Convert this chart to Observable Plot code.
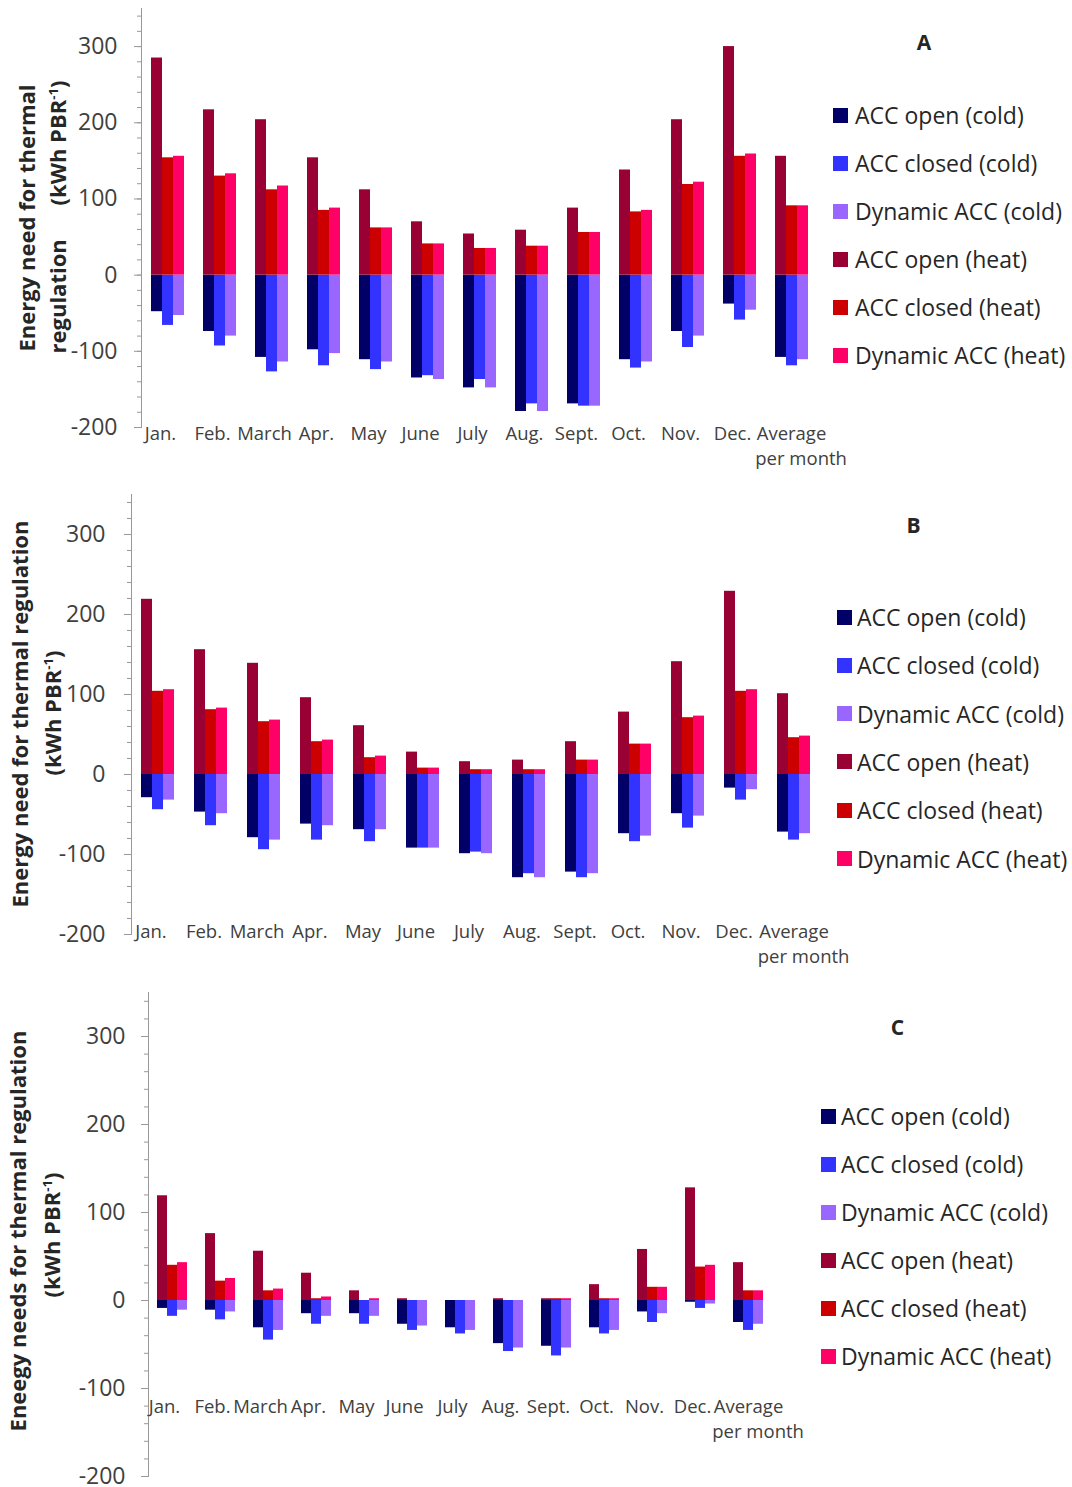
<!DOCTYPE html>
<html>
<head>
<meta charset="utf-8">
<script src="https://cdn.jsdelivr.net/npm/d3@7"></script>
<script src="https://cdn.jsdelivr.net/npm/@observablehq/plot@0.6"></script>
<style>
  body { margin: 0; background: #fff; }
  #root { position: relative; width: 1072px; height: 1487px; overflow: hidden; background: #fff; font-family: "Open Sans", sans-serif; }
  .ytitle { position: absolute; white-space: nowrap; font-weight: bold; font-size: 22px; color: #262626; transform: translate(-50%, -50%) rotate(-90deg); }
  .ytitle sup { font-size: 0.6em; }
  .legrow { position: absolute; display: flex; align-items: center; height: 30px; font-size: 23px; color: #262626; white-space: nowrap; }
  .sw { width: 15px; height: 15px; flex: none; }
  .letter { position: absolute; font-weight: bold; font-size: 21px; color: #262626; transform: translate(-50%, -50%); }
</style>
</head>
<body>
<div id="root"></div>
<script>
// ---- categories & series ----
const months = ["Jan.", "Feb.", "March", "Apr.", "May", "June", "July", "Aug.", "Sept.", "Oct.", "Nov.", "Dec.", "Average per month"];
const configs = ["open", "closed", "dynamic"];
const seriesNames = ["ACC open (cold)", "ACC closed (cold)", "Dynamic ACC (cold)", "ACC open (heat)", "ACC closed (heat)", "Dynamic ACC (heat)"];
const seriesColors = ["#000066", "#3333ff", "#9966ff", "#990033", "#cc0000", "#ff0066"];
const yMajorTicks = [-200, -100, 0, 100, 200, 300];

// ---- Panel A ----
const aOpenCold   = [-48, -74, -108, -98, -111, -135, -148, -179, -169, -111, -74, -38, -108];
const aClosedCold = [-66, -93, -127, -119, -124, -132, -137, -169, -172, -122, -95, -59, -119];
const aDynCold    = [-53, -80, -114, -103, -114, -137, -148, -179, -172, -114, -80, -46, -111];
const aOpenHeat   = [285, 217, 204, 154, 112, 70, 54, 59, 88, 138, 204, 300, 156];
const aClosedHeat = [154, 130, 112, 85, 62, 41, 35, 38, 56, 83, 119, 156, 91];
const aDynHeat    = [156, 133, 117, 88, 62, 41, 35, 38, 56, 85, 122, 159, 91];

// ---- Panel B ----
const bOpenCold   = [-29, -47, -79, -62, -69, -92, -99, -129, -122, -74, -49, -17, -72];
const bClosedCold = [-44, -64, -94, -82, -84, -92, -97, -124, -129, -84, -67, -32, -82];
const bDynCold    = [-32, -49, -82, -64, -69, -92, -99, -129, -124, -77, -52, -19, -74];
const bOpenHeat   = [219, 156, 139, 96, 61, 28, 16, 18, 41, 78, 141, 229, 101];
const bClosedHeat = [104, 81, 66, 41, 21, 8, 6, 6, 18, 38, 71, 104, 46];
const bDynHeat    = [106, 83, 68, 43, 23, 8, 6, 6, 18, 38, 73, 106, 48];

// ---- Panel C ----
const cOpenCold   = [-9, -11, -31, -15, -15, -27, -31, -49, -52, -31, -13, -2, -25];
const cClosedCold = [-18, -22, -45, -27, -27, -34, -38, -58, -63, -38, -25, -9, -34];
const cDynCold    = [-11, -13, -34, -18, -18, -29, -34, -54, -54, -34, -15, -4, -27];
const cOpenHeat   = [119, 76, 56, 31, 11, 2, 0, 2, 2, 18, 58, 128, 43];
const cClosedHeat = [40, 22, 11, 2, 0, 0, 0, 0, 2, 2, 15, 38, 11];
const cDynHeat    = [43, 25, 13, 4, 2, 0, 0, 0, 2, 2, 15, 40, 11];

function buildRows(arrays) {
  const rows = [];
  months.forEach((m, i) => {
    arrays.forEach((arr, s) => {
      rows.push({ month: m, config: configs[s % 3], series: seriesNames[s], value: arr[i] });
    });
  });
  return rows;
}

const panels = [
  { letter: "A", top: 0, width: 840, height: 475, mL: 136, mR: 18, mT: 8, mB: 48, labelDy: -5, labelDx: -7, tickPad: 17,
    arrays: [aOpenCold, aClosedCold, aDynCold, aOpenHeat, aClosedHeat, aDynHeat],
    letterPos: [924, 42], legend: { sw: 833, tx: 855, y0: 115, step: 48 } },
  { letter: "B", top: 480, width: 840, height: 494, mL: 131, mR: 20, mT: 14, mB: 40, labelDy: -14, labelDx: -7, tickPad: 19,
    arrays: [bOpenCold, bClosedCold, bDynCold, bOpenHeat, bClosedHeat, bDynHeat],
    letterPos: [913.5, 525], legend: { sw: 837, tx: 857, y0: 617, step: 48.3 } },
  { letter: "C", top: 980, width: 800, height: 506, mL: 143, mR: 24, mT: 12, mB: 10, labelDy: -81, labelDx: -8, tickPad: 16,
    arrays: [cOpenCold, cClosedCold, cDynCold, cOpenHeat, cClosedHeat, cDynHeat],
    letterPos: [897.5, 1027], legend: { sw: 820.5, tx: 841, y0: 1116, step: 48 } }
];

const root = document.getElementById("root");
const lastLabel = months[months.length - 1];
const labelFmt = d => d === lastLabel ? "Average\n    per month" : d;

panels.forEach(p => {
  const data = buildRows(p.arrays);
  const labelOpts = { frameAnchor: "bottom", lineAnchor: "top", text: labelFmt,
                      fontSize: 18.5, fill: "#404040", dy: p.labelDy, lineHeight: 1.35 };
  const chart = Plot.plot({
    width: p.width,
    height: p.height,
    marginLeft: p.mL,
    marginRight: p.mR,
    marginTop: p.mT,
    marginBottom: p.mB,
    style: { fontFamily: "Open Sans", background: "transparent", overflow: "visible" },
    fx: { domain: months, padding: 0, axis: null },
    x: { domain: configs, paddingInner: 0, paddingOuter: 0.76, axis: null },
    y: { domain: [-200, 350] },
    color: { domain: seriesNames, range: seriesColors },
    marks: [
      Plot.barY(data, { fx: "month", x: "config", y: "value", fill: "series" }),
      Plot.axisY({ ticks: d3.range(-200, 341, 20), tickSize: 4, tickFormat: () => "", stroke: "#999999", label: null }),
      Plot.axisY({ ticks: yMajorTicks, tickSize: 7, tickPadding: p.tickPad, tickFormat: d => String(d),
                   fontSize: 23, fill: "#404040", stroke: "#999999", label: null }),
      Plot.frame({ anchor: "left", stroke: "#999999", facetAnchor: "left" }),
      Plot.text(months.filter(m => m !== lastLabel), { fx: d => d, dx: p.labelDx, ...labelOpts }),
      Plot.text([lastLabel], { fx: d => d, ...labelOpts })
    ]
  });
  chart.style.position = "absolute";
  chart.style.left = "0px";
  chart.style.top = p.top + "px";
  root.appendChild(chart);

  // panel letter
  const L = document.createElement("div");
  L.className = "letter";
  L.style.left = p.letterPos[0] + "px";
  L.style.top = p.letterPos[1] + "px";
  L.textContent = p.letter;
  root.appendChild(L);

  // legend
  seriesNames.forEach((name, i) => {
    const row = document.createElement("div");
    row.className = "legrow";
    row.style.left = p.legend.sw + "px";
    row.style.top = (p.legend.y0 + i * p.legend.step - 15) + "px";
    const sw = document.createElement("div");
    sw.className = "sw";
    sw.style.background = seriesColors[i];
    const t = document.createElement("span");
    t.style.marginLeft = (p.legend.tx - p.legend.sw - 15) + "px";
    t.textContent = name;
    row.appendChild(sw);
    row.appendChild(t);
    root.appendChild(row);
  });
});

// y-axis titles
function yTitle(html, cx, cy, extraStyle) {
  const d = document.createElement("div");
  d.className = "ytitle";
  d.style.left = cx + "px";
  d.style.top = cy + "px";
  if (extraStyle) Object.assign(d.style, extraStyle);
  d.innerHTML = html;
  root.appendChild(d);
}
yTitle("Energy need for thermal", 25.5, 217.5);
yTitle("<span>regulation</span><span>(kWh PBR<sup>-1</sup>)</span>", 57, 216.5,
       { display: "flex", justifyContent: "space-between", width: "273px" });
yTitle("Energy need for thermal regulation", 19, 714);
yTitle("(kWh PBR<sup>-1</sup>)", 51.5, 713);
yTitle("Eneegy needs for thermal regulation", 16.5, 1231);
yTitle("(kWh PBR<sup>-1</sup>)", 51, 1235);
</script>
</body>
</html>
